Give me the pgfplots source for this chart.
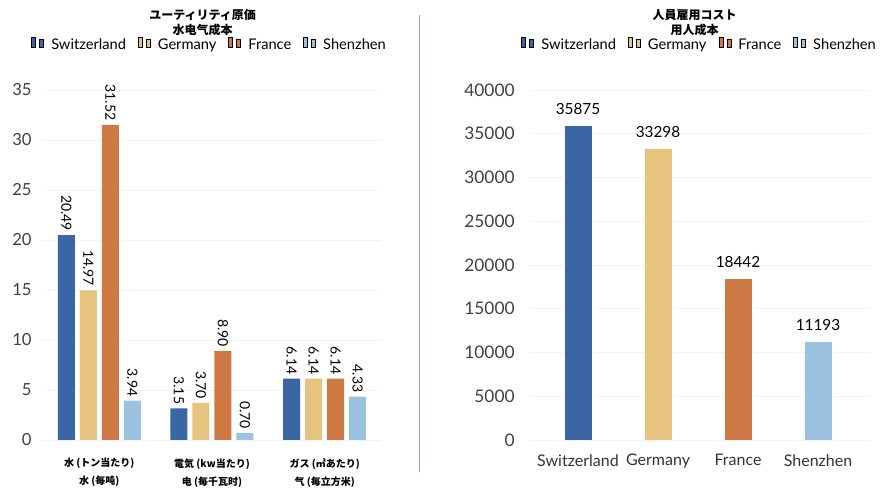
\documentclass[border=0pt]{standalone}
\usepackage{fontspec}
\setmainfont{Lato}
\newfontfamily\cjk{Noto Sans CJK JP}
\usepackage{pgfplots}
\pgfplotsset{compat=1.18}

\definecolor{swz}{HTML}{3A66A6}
\definecolor{ger}{HTML}{E6C47E}
\definecolor{fra}{HTML}{CE7944}
\definecolor{shz}{HTML}{9CC2E2}
\definecolor{divider}{HTML}{8E9FD2}

\pgfplotsset{
  sq legend/.style={legend image code/.code={%
    \fill[##1,draw=none] (0pt,-4pt) rectangle (8.25pt,4.25pt);}},
  common/.style={
    scale only axis, anchor=south west,
    axis line style={draw=none}, tick style={draw=none},
    ymajorgrids, grid style={black!5},
    /pgf/number format/assume math mode=true,
    legend columns=4,
    legend style={draw=none, fill=none, anchor=center,
      font=\fontsize{11}{13}\selectfont,
      /tikz/every even column/.append style={column sep=7pt},
      /tikz/every odd column/.append style={column sep=3.5pt}},
    sq legend,
  },
}

\begin{document}
\begin{tikzpicture}
\useasboundingbox (0,0) rectangle (662.25pt,366.75pt);
\draw[divider, line width=1.1pt] (314.5pt,12.75pt) -- (314.5pt,355.5pt);

% utilities
\begin{axis}[common,
  at={(32.25pt,36.75pt)}, width=253.5pt, height=262.5pt,
  ybar=3.75pt, bar width=12.75pt,
  xmin=-0.5, xmax=2.5, ymin=0, ymax=35,
  ytick={0,5,...,35},
  xtick=data,
  xticklabels={{\cjk 水 (トン当たり)\\\cjk 水 (每吨)},
               {\cjk 電気 (kw当たり)\\\cjk 电 (每千瓦时)},
               {\cjk ガス (㎡あたり)\\\cjk 气 (每立方米)}},
  xticklabel style={align=center, font=\fontsize{7.5}{13.5}\selectfont\bfseries, yshift=-6pt},
  yticklabel style={font=\fontsize{12.5}{14}\selectfont, text=black!75, xshift=-5pt},
  nodes near coords={\pgfmathprintnumber[fixed,fixed zerofill,precision=2]{\pgfplotspointmeta}},
  nodes near coords style={rotate=-90, anchor=east, font=\fontsize{10.5}{12}\selectfont, inner sep=3pt},
  legend style={at={(0.494,1.129)}},
]
\addplot[fill=swz, draw=none] coordinates {(0,20.49) (1,3.15) (2,6.14)};
\addplot[fill=ger, draw=none] coordinates {(0,14.97) (1,3.70) (2,6.14)};
\addplot[fill=fra, draw=none] coordinates {(0,31.52) (1,8.90) (2,6.14)};
\addplot[fill=shz, draw=none] coordinates {(0,3.94) (1,0.70) (2,4.33)};
\legend{Switzerland,Germany,France,Shenzhen}
\end{axis}

% labour
\begin{axis}[common,
  at={(397.5pt,36.75pt)}, width=255pt, height=262.5pt,
  ybar, bar width=20.25pt,
  xmin=-0.6, xmax=3.65, ymin=0, ymax=40000,
  ytick={0,5000,...,40000}, scaled y ticks=false,
  yticklabel style={/pgf/number format/1000 sep={}, font=\fontsize{13}{15}\selectfont, text=black!75, xshift=-8pt},
  xtick={0,1,2,3},
  xticklabels={Switzerland,Germany,France,Shenzhen},
  xticklabel style={font=\fontsize{12}{14}\selectfont, text=black!80, yshift=-3pt},
  nodes near coords={\pgfmathprintnumber[fixed,1000 sep={}]{\pgfplotspointmeta}},
  nodes near coords style={font=\fontsize{11.5}{13}\selectfont, anchor=south, yshift=5pt},
  legend style={at={(0.5,1.129)}},
]
\addplot[fill=swz, draw=none, bar shift=0pt] coordinates {(0,35875)};
\addplot[fill=ger, draw=none, bar shift=0pt] coordinates {(1,33298)};
\addplot[fill=fra, draw=none, bar shift=0pt] coordinates {(2,18442)};
\addplot[fill=shz, draw=none, bar shift=0pt] coordinates {(3,11193)};
\legend{Switzerland,Germany,France,Shenzhen}
\end{axis}

\node[align=center, font=\cjk\fontsize{9}{11.25}\selectfont\bfseries] at (152pt,350pt) {ユーティリティ原価\\水电气成本};
\node[align=center, font=\cjk\fontsize{9}{11.25}\selectfont\bfseries] at (521pt,350pt) {人員雇用コスト\\用人成本};
\end{tikzpicture}
\end{document}
